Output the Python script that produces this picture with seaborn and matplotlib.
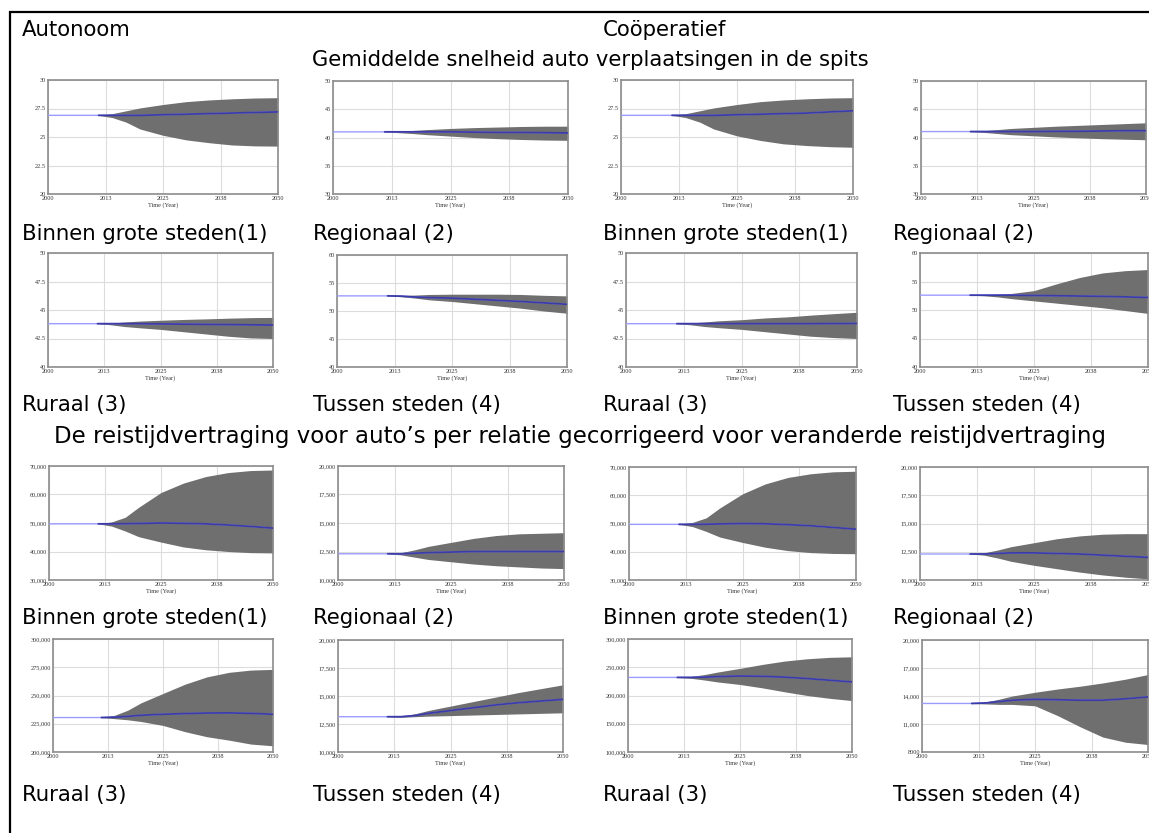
import numpy as np
import pandas as pd
import seaborn as sns
import matplotlib.pyplot as plt
from matplotlib.patches import Rectangle

YEARS = [2000, 2011, 2014, 2017, 2020, 2025, 2030, 2035, 2040, 2045, 2050]
XTICKS = [2000, 2012.5, 2025, 2037.5, 2050]
XTICK_LABELS = ["2000", "2013", "2025", "2038", "2050"]

# --- speed, Autonoom ---
a1_mean = [26.9, 26.9, 26.9, 26.9, 26.9, 26.95, 27.0, 27.05, 27.1, 27.15, 27.2]
a1_high = [26.9, 26.9, 27.05, 27.3, 27.55, 27.85, 28.1, 28.25, 28.35, 28.42, 28.45]
a1_low = [26.9, 26.9, 26.7, 26.3, 25.7, 25.15, 24.75, 24.5, 24.3, 24.22, 24.2]

a2_mean = [41.0, 41.0, 41.0, 41.0, 41.0, 41.0, 40.95, 40.9, 40.9, 40.85, 40.8]
a2_high = [41.0, 41.0, 41.1, 41.25, 41.4, 41.6, 41.75, 41.85, 41.95, 42.0, 42.0]
a2_low = [41.0, 41.0, 40.85, 40.7, 40.5, 40.25, 40.0, 39.8, 39.65, 39.55, 39.5]

a3_mean = [43.8, 43.8, 43.8, 43.8, 43.8, 43.78, 43.76, 43.74, 43.72, 43.7, 43.68]
a3_high = [43.8, 43.8, 43.85, 43.95, 44.02, 44.1, 44.17, 44.22, 44.28, 44.33, 44.35]
a3_low = [43.8, 43.8, 43.7, 43.55, 43.45, 43.3, 43.1, 42.9, 42.7, 42.55, 42.5]

a4_mean = [52.7, 52.7, 52.65, 52.5, 52.4, 52.3, 52.1, 51.9, 51.7, 51.45, 51.2]
a4_high = [52.7, 52.7, 52.75, 52.85, 52.95, 53.0, 53.0, 53.0, 52.95, 52.8, 52.7]
a4_low = [52.7, 52.7, 52.55, 52.3, 52.0, 51.7, 51.3, 50.9, 50.5, 50.0, 49.6]

# --- speed, Coöperatief ---
c1_mean = [26.9, 26.9, 26.9, 26.9, 26.9, 26.95, 27.0, 27.05, 27.1, 27.2, 27.3]
c1_high = [26.9, 26.9, 27.05, 27.3, 27.55, 27.85, 28.1, 28.25, 28.35, 28.42, 28.45]
c1_low = [26.9, 26.9, 26.7, 26.3, 25.7, 25.1, 24.7, 24.4, 24.25, 24.15, 24.1]

c2_mean = [41.05, 41.05, 41.05, 41.05, 41.05, 41.05, 41.1, 41.1, 41.15, 41.2, 41.2]
c2_high = [41.05, 41.05, 41.2, 41.4, 41.6, 41.8, 42.0, 42.15, 42.3, 42.45, 42.6]
c2_low = [41.05, 41.05, 40.9, 40.7, 40.5, 40.3, 40.1, 39.95, 39.8, 39.7, 39.6]

c3_mean = [43.8, 43.8, 43.8, 43.8, 43.8, 43.8, 43.8, 43.8, 43.8, 43.81, 43.82]
c3_high = [43.8, 43.8, 43.87, 43.95, 44.05, 44.15, 44.3, 44.4, 44.55, 44.68, 44.8]
c3_low = [43.8, 43.8, 43.7, 43.55, 43.45, 43.3, 43.1, 42.9, 42.7, 42.58, 42.5]

c4_mean = [52.6, 52.6, 52.6, 52.6, 52.6, 52.55, 52.5, 52.45, 52.4, 52.3, 52.2]
c4_high = [52.6, 52.6, 52.65, 52.75, 52.9, 53.4, 54.6, 55.7, 56.5, 56.9, 57.1]
c4_low = [52.6, 52.6, 52.5, 52.3, 52.0, 51.6, 51.2, 50.8, 50.4, 49.9, 49.4]

# --- delay, Autonoom ---
a5_mean = [49700, 49700, 49700, 49750, 49850, 50000, 49900, 49700, 49300, 48800, 48200]
a5_high = [49700, 49700, 50400, 52000, 55500, 60700, 64000, 66300, 67700, 68400, 68600]
a5_low = [49700, 49700, 48900, 47200, 45200, 43300, 41600, 40600, 40000, 39600, 39500]

a6_mean = [12300, 12300, 12300, 12350, 12400, 12450, 12500, 12500, 12500, 12500, 12500]
a6_high = [12300, 12300, 12400, 12650, 12950, 13300, 13650, 13900, 14050, 14100, 14150]
a6_low = [12300, 12300, 12200, 12000, 11800, 11600, 11400, 11250, 11150, 11050, 11000]

a7_mean = [230500, 230500, 230800, 231500, 232500, 233400, 234000, 234500, 234600, 234200, 233400]
a7_high = [230500, 230500, 232500, 237000, 243500, 251800, 260000, 266500, 270500, 272500, 273100]
a7_low = [230500, 230500, 229500, 228500, 227000, 223500, 218000, 213500, 210500, 207000, 205500]

a8_mean = [13150, 13150, 13150, 13250, 13450, 13700, 13950, 14200, 14400, 14550, 14700]
a8_high = [13150, 13150, 13200, 13400, 13700, 14100, 14500, 14900, 15300, 15650, 16000]
a8_low = [13150, 13150, 13100, 13150, 13200, 13250, 13300, 13350, 13400, 13450, 13500]

# --- delay, Coöperatief ---
c5_mean = [49700, 49700, 49700, 49750, 49850, 50000, 49900, 49600, 49200, 48600, 48000]
c5_high = [49700, 49700, 50400, 52000, 55500, 60500, 64000, 66300, 67600, 68300, 68500]
c5_low = [49700, 49700, 48900, 47200, 45200, 43300, 41600, 40400, 39700, 39400, 39300]

c6_mean = [12300, 12300, 12300, 12350, 12400, 12400, 12350, 12300, 12200, 12100, 12000]
c6_high = [12300, 12300, 12400, 12650, 12950, 13300, 13650, 13900, 14050, 14100, 14100]
c6_low = [12300, 12300, 12200, 11950, 11650, 11300, 11000, 10700, 10450, 10250, 10100]

c7_mean = [232000, 232000, 232000, 232500, 233500, 234500, 234000, 232500, 230000, 227000, 224000]
c7_high = [232000, 232000, 233500, 237000, 241500, 248000, 255000, 261000, 265000, 267500, 268500]
c7_low = [232000, 232000, 230500, 227500, 224000, 219500, 213500, 206500, 200000, 195000, 191000]

c8_mean = [13200, 13200, 13250, 13400, 13550, 13650, 13600, 13550, 13550, 13700, 13900]
c8_high = [13200, 13200, 13350, 13650, 14000, 14400, 14750, 15050, 15400, 15800, 16300]
c8_low = [13200, 13200, 13150, 13100, 13100, 12950, 11900, 10700, 9600, 9050, 8800]

# y axes
speed_30 = ([20, 22.5, 25, 27.5, 30], ["20", "22.5", "25", "27.5", "30"])
speed_50 = ([30, 35, 40, 45, 50], ["30", "35", "40", "45", "50"])
speed_50b = ([40, 42.5, 45, 47.5, 50], ["40", "42.5", "45", "47.5", "50"])
speed_60 = ([40, 45, 50, 55, 60], ["40", "45", "50", "55", "60"])
delay_70k = ([30000, 40000, 50000, 60000, 70000], ["30,000", "40,000", "50,000", "60,000", "70,000"])
delay_20k = ([10000, 12500, 15000, 17500, 20000], ["10,000", "12,500", "15,000", "17,500", "20,000"])
delay_300k = ([200000, 225000, 250000, 275000, 300000], ["200,000", "225,000", "250,000", "275,000", "300,000"])
delay_300kb = ([100000, 150000, 200000, 250000, 300000], ["100,000", "150,000", "200,000", "250,000", "300,000"])
delay_20kb = ([8000, 11000, 14000, 17000, 20000], ["8000", "11,000", "14,000", "17,000", "20,000"])

sns.set_style("white")
W, H = 1149, 833
fig = plt.figure(figsize=(W / 100, H / 100), dpi=100)


def px_axes(x0, y0, x1, y1):
    return fig.add_axes([x0 / W, 1 - y1 / H, (x1 - x0) / W, (y1 - y0) / H])


def draw_panel(box, mean, low, high, yaxis):
    ax = px_axes(*box)
    df = pd.DataFrame({"year": YEARS, "mean": mean, "low": low, "high": high})
    band = df[df["year"] >= 2011]
    ax.fill_between(band["year"], band["low"], band["high"], color="#6f6f6f", lw=0, zorder=2)
    sns.lineplot(data=df, x="year", y="mean", color="#9c9cff", lw=1, ax=ax, zorder=3)
    sns.lineplot(data=band, x="year", y="mean", color="#3c3ca8", lw=1.3, ax=ax, zorder=4)
    ticks, labels = yaxis
    ax.set_xlim(2000, 2050)
    ax.set_ylim(ticks[0], ticks[-1])
    ax.set_xticks(XTICKS, XTICK_LABELS)
    ax.set_yticks(ticks, labels)
    ax.grid(True, color="#dcdcdc", lw=0.8)
    ax.set_axisbelow(True)
    for s in ax.spines.values():
        s.set_color("#8c8c8c")
        s.set_linewidth(1.2)
    ax.tick_params(length=0, labelsize=4.5, pad=1.5, colors="#333333")
    for t in ax.get_xticklabels() + ax.get_yticklabels():
        t.set_fontfamily("Liberation Serif")
    ax.set_xlabel("Time (Year)", fontsize=4.5, family="Liberation Serif", labelpad=0.5, color="#333333")
    ax.set_ylabel("")
    return ax


draw_panel((48, 80, 278, 194), a1_mean, a1_low, a1_high, speed_30)
draw_panel((333, 81, 568, 194), a2_mean, a2_low, a2_high, speed_50)
draw_panel((621, 80, 853, 194), c1_mean, c1_low, c1_high, speed_30)
draw_panel((921, 81, 1146, 194), c2_mean, c2_low, c2_high, speed_50)

draw_panel((48, 253, 273, 367), a3_mean, a3_low, a3_high, speed_50b)
draw_panel((337, 255, 567, 367), a4_mean, a4_low, a4_high, speed_60)
draw_panel((626, 253, 857, 367), c3_mean, c3_low, c3_high, speed_50b)
draw_panel((920, 253, 1148, 367), c4_mean, c4_low, c4_high, speed_60)

draw_panel((49, 466, 273, 580), a5_mean, a5_low, a5_high, delay_70k)
draw_panel((338, 466, 564, 580), a6_mean, a6_low, a6_high, delay_20k)
draw_panel((629, 467, 856, 580), c5_mean, c5_low, c5_high, delay_70k)
draw_panel((920, 467, 1148, 580), c6_mean, c6_low, c6_high, delay_20k)

draw_panel((53, 639, 273, 752), a7_mean, a7_low, a7_high, delay_300k)
draw_panel((338, 640, 563, 752), a8_mean, a8_low, a8_high, delay_20k)
draw_panel((628, 639, 852, 752), c7_mean, c7_low, c7_high, delay_300kb)
draw_panel((922, 640, 1148, 752), c8_mean, c8_low, c8_high, delay_20kb)


def label(x, y, s, ha="left", size=15.3):
    fig.text(x / W, 1 - y / H, s, ha=ha, va="center", fontsize=size, color="black")


label(22, 30, "Autonoom")
label(603, 30, "Coöperatief")
label(590, 60, "Gemiddelde snelheid auto verplaatsingen in de spits", ha="center", size=15.2)
label(580, 437, "De reistijdvertraging voor auto’s per relatie gecorrigeerd voor veranderde reistijdvertraging",
      ha="center", size=16.5)

cols = [22, 313, 603, 893]
for y, names in [(234, ["Binnen grote steden(1)", "Regionaal (2)"]),
                 (405, ["Ruraal (3)", "Tussen steden (4)"]),
                 (618, ["Binnen grote steden(1)", "Regionaal (2)"]),
                 (795, ["Ruraal (3)", "Tussen steden (4)"])]:
    for i, x in enumerate(cols):
        label(x, y, names[i % 2])

fig.add_artist(Rectangle((10 / W, -0.1), 1.2, 1 - 12 / H + 0.1, transform=fig.transFigure,
                         fill=False, ec="black", lw=1.6))

fig.savefig("out.png", dpi=100)
